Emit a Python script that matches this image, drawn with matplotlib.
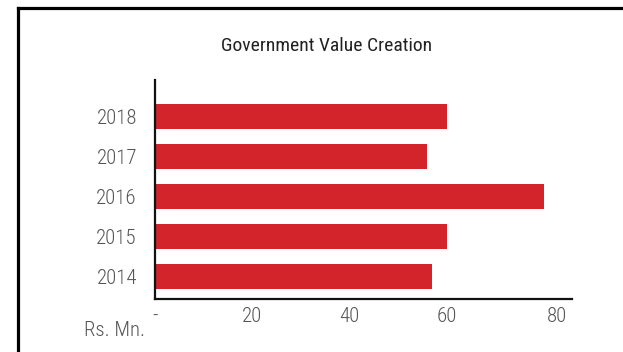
import matplotlib
matplotlib.use("Agg")
import matplotlib.pyplot as plt
import matplotlib.transforms as mtransforms
from matplotlib.lines import Line2D

# data
years = ["2014", "2015", "2016", "2017", "2018"]
values = [57, 60, 80, 56, 60]
xticks = [0, 20, 40, 60, 80]
xtick_labels = ["-", "20", "40", "60", "80"]

bar_color = "#d3232b"
text_color = "#555555"

plt.rcParams["font.family"] = ["Roboto Condensed", "Archivo Narrow", "DejaVu Sans"]

fig = plt.figure(figsize=(6.23, 3.52), dpi=100)
ax = fig.add_axes([0.2488, 0.1506, 0.6693, 0.622])

pos = list(range(len(years)))
ax.barh(pos, values, height=0.62, color=bar_color)

ax.set_xlim(0, 85.8)
ax.set_ylim(-0.56, len(years) - 1 + 0.91)
ax.set_yticks(pos)
ax.set_yticklabels(years)
ax.set_xticks(xticks)
ax.set_xticklabels(xtick_labels)
ax.tick_params(axis="both", length=0, labelsize=15, labelcolor=text_color)
ax.tick_params(axis="y", pad=13)
ax.tick_params(axis="x", pad=6)
for t in ax.get_xticklabels() + ax.get_yticklabels():
    t.set_fontweight("light")

# last tick label sits a bit further right in the original
lbl = ax.get_xticklabels()[-1]
lbl.set_transform(lbl.get_transform() + mtransforms.ScaledTranslation(13 / 100, 0, fig.dpi_scale_trans))

for s in ["top", "right"]:
    ax.spines[s].set_visible(False)
for s in ["left", "bottom"]:
    ax.spines[s].set_linewidth(1.6)
    ax.spines[s].set_color("#111111")

fig.text(327 / 623, 1 - 46 / 352, "Government Value Creation", ha="center", va="center",
         fontsize=14, color="#222222")
fig.text(114 / 623, 1 - 330 / 352, "Rs. Mn.", ha="center", va="center",
         fontsize=15, fontweight="light", color=text_color)

# outer frame (top and left edges)
fig.add_artist(Line2D([17.5 / 623, 1], [1 - 7.5 / 352, 1 - 7.5 / 352], color="black", lw=2.3,
                      transform=fig.transFigure))
fig.add_artist(Line2D([17.5 / 623, 17.5 / 623], [0, 1 - 7.5 / 352], color="black", lw=2.3,
                      transform=fig.transFigure))

fig.savefig("out.png", dpi=100)
